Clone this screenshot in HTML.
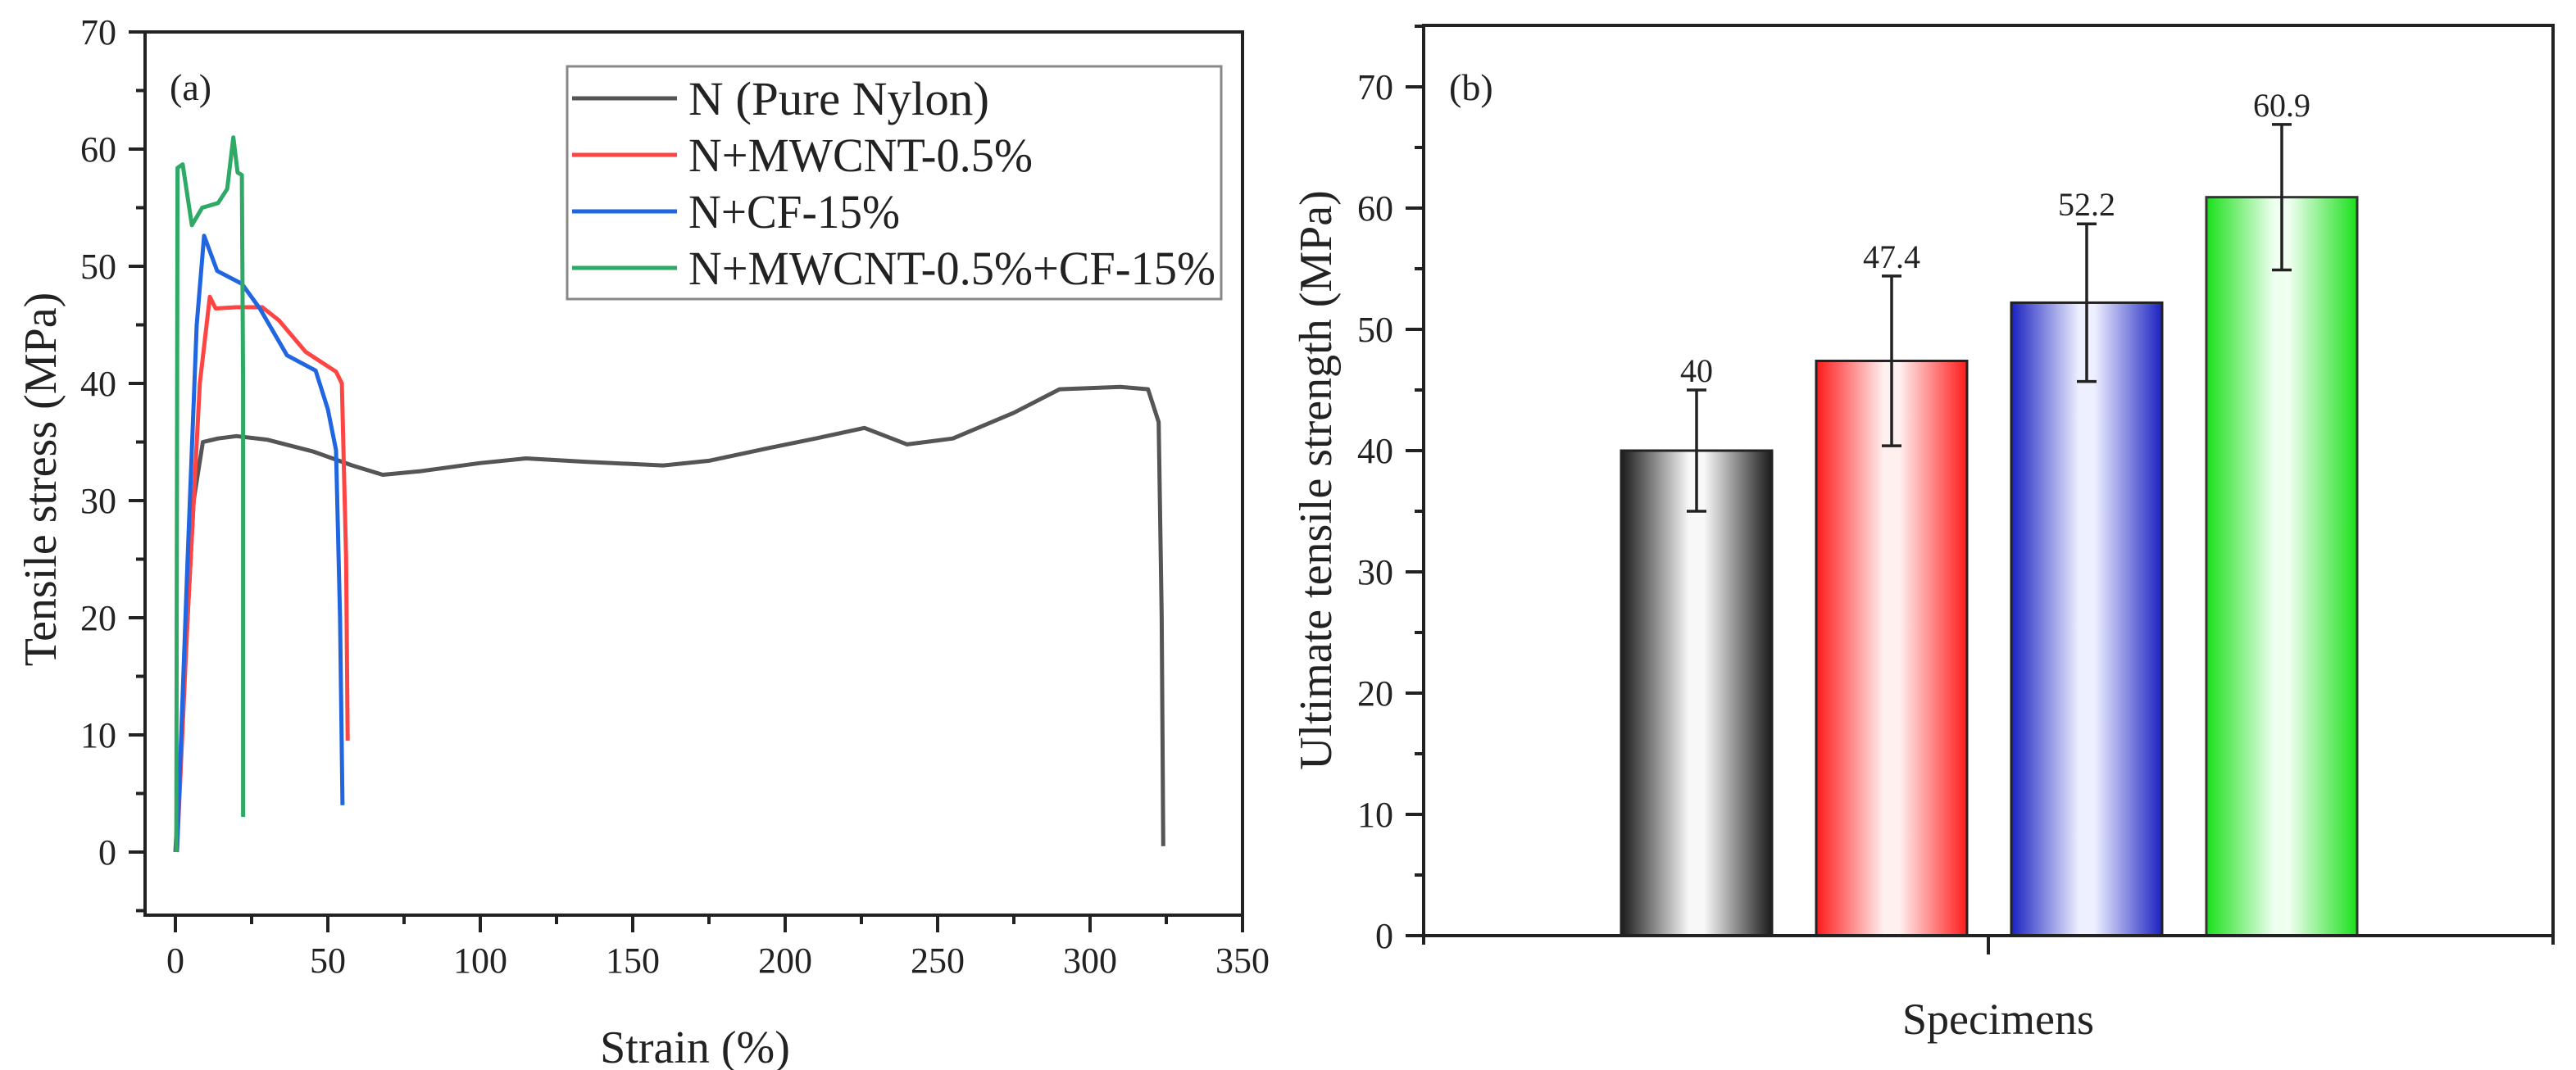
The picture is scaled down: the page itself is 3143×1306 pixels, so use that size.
<!DOCTYPE html>
<html><head><meta charset="utf-8"><style>
html,body{margin:0;padding:0;background:#fff;}
svg{display:block;font-family:"Liberation Serif","DejaVu Serif",serif;}
</style></head><body>
<svg id="fig" width="3143" height="1306" viewBox="0 0 3143 1306" xmlns="http://www.w3.org/2000/svg">
<defs>
<linearGradient id="gBlack" x1="0" x2="1" y1="0" y2="0"><stop offset="0" stop-color="#1a1a1a"/><stop offset="0.45" stop-color="#f8f8f8"/><stop offset="0.55" stop-color="#f8f8f8"/><stop offset="1" stop-color="#1a1a1a"/></linearGradient>
<linearGradient id="gRed" x1="0" x2="1" y1="0" y2="0"><stop offset="0" stop-color="#ff1a1a"/><stop offset="0.45" stop-color="#fff0f0"/><stop offset="0.55" stop-color="#fff0f0"/><stop offset="1" stop-color="#ff1a1a"/></linearGradient>
<linearGradient id="gBlue" x1="0" x2="1" y1="0" y2="0"><stop offset="0" stop-color="#1a22c0"/><stop offset="0.45" stop-color="#eef0ff"/><stop offset="0.55" stop-color="#eef0ff"/><stop offset="1" stop-color="#1a22c0"/></linearGradient>
<linearGradient id="gGreen" x1="0" x2="1" y1="0" y2="0"><stop offset="0" stop-color="#1ae01a"/><stop offset="0.45" stop-color="#effff0"/><stop offset="0.55" stop-color="#effff0"/><stop offset="1" stop-color="#1ae01a"/></linearGradient>
</defs>
<g id="chartA"></g>
<g id="chartB"></g>
</svg>
<script>
// ---- Chart (a) data ----
const nylonStrain = [0,3,6,9,14,20,30,45,58,68,80,100,115,135,160,175,195,210,226,240,255,275,290,310,319,322.5,323.5,324];
const nylonStress = [0,15,30,35,35.3,35.5,35.2,34.2,33,32.2,32.5,33.2,33.6,33.3,33,33.4,34.5,35.3,36.2,34.8,35.3,37.5,39.5,39.7,39.5,36.7,20,0.5];
const mwcntStrain = [0.5,4,8,11.3,13.2,20,28.5,33.9,42.7,52.7,54.6,56,56.5];
const mwcntStress = [0,20,40,47.4,46.4,46.5,46.5,45.4,42.7,41,40,25,9.5];
const cfStrain = [0.5,4,7,9.4,13.7,21.8,27.7,36.6,46,50,52.7,54,54.8];
const cfStress = [0,25,45,52.6,49.6,48.5,46.4,42.4,41.1,37.8,34.3,20,4];
const hybStrain = [0.3,0.7,2.4,5.4,8.8,14,17,19,20.4,21.8,22.2,22.2];
const hybStress = [0,58.4,58.7,53.5,55,55.4,56.6,61,58,57.8,40,3];
const seriesNames = ["N (Pure Nylon)","N+MWCNT-0.5%","N+CF-15%","N+MWCNT-0.5%+CF-15%"];
const xTicksA = [0,50,100,150,200,250,300,350];
const yTicksA = [0,10,20,30,40,50,60,70];
// ---- Chart (b) data ----
const barLabels = ["40","47.4","52.2","60.9"];
const barValues = [40,47.4,52.2,60.9];
const barErrLow = [35,40.4,45.7,54.9];
const barErrHigh = [45,54.4,58.7,66.9];
const yTicksB = [0,10,20,30,40,50,60,70];

const NS="http://www.w3.org/2000/svg";
function mk(tag,attrs,parent,txt){const e=document.createElementNS(NS,tag);for(const k in attrs)e.setAttribute(k,attrs[k]);if(txt!==undefined)e.textContent=txt;parent.appendChild(e);return e;}

// ---- Chart A ----
const A=document.getElementById('chartA');
const ax=v=>214+3.72*v, ay=v=>1040-14.3*v;
const colors=["#555555","#ff4444","#1f66e0","#2eaa66"];
const data=[[nylonStrain,nylonStress],[mwcntStrain,mwcntStress],[cfStrain,cfStress],[hybStrain,hybStress]];
data.forEach((d,i)=>{
  let p=d[0].map((x,j)=>(j?'L':'M')+ax(x).toFixed(1)+','+ay(d[1][j]).toFixed(1)).join(' ');
  const l=mk('path',{d:p,fill:'none',stroke:colors[i],'stroke-width':5,'stroke-linejoin':'round'},A);
  
  
});
const frameA=mk('rect',{x:177,y:39,width:1339,height:1078,fill:'none',stroke:'#222','stroke-width':4},A);


for(let v=-5;v<=70;v+=5){const maj=v%10===0;mk('line',{x1:maj?157:166,x2:177,y1:ay(v),y2:ay(v),stroke:'#222','stroke-width':4},A);}
yTicksA.forEach(v=>{const t=mk('text',{x:142,y:ay(v)+15,'text-anchor':'end','font-size':44,fill:'#222'},A,String(v));
 
 });
for(let v=0;v<=350;v+=25){const maj=v%50===0;mk('line',{x1:ax(v),x2:ax(v),y1:1117,y2:maj?1138:1128,stroke:'#222','stroke-width':4},A);}
xTicksA.forEach(v=>{const t=mk('text',{x:ax(v),y:1187,'text-anchor':'middle','font-size':44,fill:'#222'},A,String(v));
 
 });
let t=mk('text',{x:848,y:1297,'text-anchor':'middle','font-size':56,fill:'#222'},A,'Strain (%)');


t=mk('text',{x:0,y:0,transform:'translate(68,585) rotate(-90)','text-anchor':'middle','font-size':56,fill:'#222'},A,'Tensile stress (MPa)');


t=mk('text',{x:207,y:122,'font-size':46,fill:'#222'},A,'(a)');


const lg=mk('g',{},A);


mk('rect',{x:692,y:81,width:798,height:284,fill:'#fff',stroke:'#888','stroke-width':3},lg);
const lys=[120,189,258,327], lw=[367,420,258,643];
seriesNames.forEach((n,i)=>{
  mk('line',{x1:698,x2:826,y1:lys[i],y2:lys[i],stroke:colors[i],'stroke-width':5},lg);
  const e=mk('text',{x:840,y:lys[i]+20,'font-size':58,fill:'#222',textLength:lw[i],lengthAdjust:'spacingAndGlyphs'},lg,n);
  
  
});

// ---- Chart B ----
const B=document.getElementById('chartB');
const by=v=>1142-14.8*v;
const bx=i=>2070+238*i, bw=184;
const grads=['gBlack','gRed','gBlue','gGreen'];
const edges=['#222','#222','#222','#333'];
barValues.forEach((v,i)=>{
  const r=mk('rect',{x:bx(i)-bw/2,y:by(v),width:bw,height:by(0)-by(v),fill:'url(#'+grads[i]+')',stroke:edges[i],'stroke-width':3},B);
  
  
  const eb=mk('path',{d:`M${bx(i)},${by(barErrLow[i])}V${by(barErrHigh[i])}M${bx(i)-12},${by(barErrLow[i])}h24M${bx(i)-12},${by(barErrHigh[i])}h24`,stroke:'#222','stroke-width':3.5,fill:'none'},B);
  
  
  const lb=mk('text',{x:bx(i),y:by(barErrHigh[i])-10,'text-anchor':'middle','font-size':40,fill:'#222'},B,barLabels[i]);
  
  
});
const frameB=mk('rect',{x:1737,y:31,width:1378,height:1111,fill:'none',stroke:'#222','stroke-width':4},B);


for(let v=0;v<=75;v+=5){const maj=v%10===0;mk('line',{x1:maj?1715:1726,x2:1737,y1:by(v),y2:by(v),stroke:'#222','stroke-width':4},B);}
yTicksB.forEach(v=>{const e=mk('text',{x:1700,y:by(v)+15,'text-anchor':'end','font-size':44,fill:'#222'},B,String(v));
 
 });
[1737,2426,3115].forEach(x=>mk('line',{x1:x,x2:x,y1:1142,y2:x===2426?1165:1153,stroke:'#222','stroke-width':4},B));
t=mk('text',{x:2438,y:1262,'text-anchor':'middle','font-size':54,fill:'#222'},B,'Specimens');


t=mk('text',{x:0,y:0,transform:'translate(1624,586) rotate(-90)','text-anchor':'middle','font-size':56,fill:'#222'},B,'Ultimate tensile strength (MPa)');


t=mk('text',{x:1768,y:122,'font-size':46,fill:'#222'},B,'(b)');


</script>
</body></html>
